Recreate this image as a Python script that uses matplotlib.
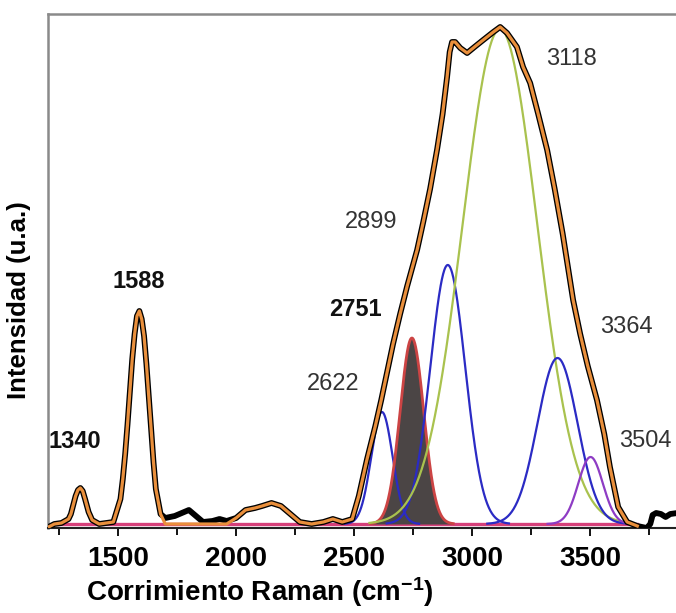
# Raman spectrum with deconvoluted bands (2500-3700 cm-1 region)
import numpy as np
import matplotlib
matplotlib.use("Agg")
import matplotlib.pyplot as plt

plt.rcParams['font.family'] = ['Liberation Sans', 'DejaVu Sans']
plt.rcParams['mathtext.fontset'] = 'custom'
plt.rcParams['mathtext.rm'] = 'Liberation Sans:bold'
plt.rcParams['mathtext.it'] = 'Liberation Sans:bold'

raman_x = [1205, 1230, 1260, 1290, 1300, 1320, 1330, 1340, 1350, 1360,
           1375, 1390, 1420, 1480, 1510, 1520, 1530, 1540, 1560, 1570,
           1580, 1590, 1600, 1610, 1620, 1640, 1650, 1660, 1680, 1700,
           1740, 1780, 1800, 1830, 1860, 1900, 1930, 1960, 2000, 2040,
           2080, 2110, 2150, 2190, 2230, 2270, 2320, 2370, 2410, 2450,
           2492, 2520, 2555, 2590, 2615, 2640, 2665, 2695, 2725, 2767,
           2793, 2822, 2852, 2875, 2894, 2905, 2915, 2928, 2950, 2979,
           3010, 3047, 3090, 3119, 3148, 3190, 3216, 3246, 3280, 3318,
           3350, 3384, 3428, 3458, 3490, 3529, 3560, 3584, 3619, 3657,
           3700, 3740, 3755, 3765, 3780, 3800, 3820, 3840, 3870]
raman_y = [-3, 0, 1, 5, 10, 28, 34, 36, 33, 25,
           12, 4, 0, 2, 25, 45, 70, 100, 165, 190,
           208, 213, 205, 188, 160, 95, 62, 35, 10, 6,
           8, 12, 14, 8, 2, 3, 5, 3, 6, 14,
           16, 18, 21, 18, 10, 2, 0, 2, 5, 2,
           5, 28, 65, 98, 124, 152, 180, 210, 238, 274,
           302, 335, 375, 410, 447, 472, 482, 482, 476, 471,
           477, 484, 492, 497, 491, 477, 457, 441, 410, 374,
           335, 290, 224, 190, 158, 124, 90, 57, 17, 2,
           -2, -4, 0, 9, 11, 10, 7, 10, 11]

# fitted bands: centre, height, width (sigma)
band_center = [2618, 2745, 2897, 3118, 3362, 3502]
band_height = [112, 186, 259, 495, 166, 67]
band_sigma = [45, 50, 74, 158, 85, 52]
band_color = ['#2b2bc4', '#cc4444', '#2b2bc4', '#a9c24e', '#2b2bc4', '#8e3cc4']

# peak labels
lab_text = ['1340', '1588', '2751', '2622', '2899', '3118', '3364', '3504']
lab_x = [1318, 1589, 2504, 2411, 2572, 3419, 3653, 3733]
lab_y = [83, 242, 214, 140, 302, 465, 197, 83]
lab_bold = [True, True, True, False, False, False, False, False]

raman_x = np.array(raman_x)
raman_y = np.array(raman_y)

fig = plt.figure(figsize=(6.76, 6.13), dpi=100)
ax = fig.add_axes([48/676, 85/613, 1 - 48/676, 514/613])

# baseline
ax.plot([1240, 3700], [0, 0], color='#d6407a', lw=2.4, zorder=1)

# bands
for c, h, s, col in zip(band_center, band_height, band_sigma, band_color):
    xx = np.linspace(c - 3.5*s, c + 3.5*s, 300)
    yy = h*np.exp(-0.5*((xx - c)/s)**2)
    if col == '#cc4444':
        ax.fill_between(xx, 0, yy, color='#4b4545', lw=0, zorder=2)
        ax.plot(xx, yy, color=col, lw=2.0, zorder=3)
    else:
        ax.plot(xx, yy, color=col, lw=1.6, zorder=3)

# experimental + fit
ax.plot(raman_x, raman_y, color='black', lw=4.2, zorder=4, solid_joinstyle='round')
fit_mask = (raman_x <= 3700)
fit_y = np.where((raman_x > 1690) & (raman_x < 1985), 0, raman_y)
ax.plot(raman_x[fit_mask], fit_y[fit_mask], color='#e98f3c', lw=2.3, zorder=5,
        solid_joinstyle='round')

for t, x, y, b in zip(lab_text, lab_x, lab_y, lab_bold):
    ax.text(x, y, t, ha='center', va='center', fontsize=17,
            fontweight='bold' if b else 'normal',
            color='#111111' if b else '#333333')

ax.set_xlim(1203, 3864)
ax.set_ylim(-4, 510)
ax.set_xticks([1500, 2000, 2500, 3000, 3500])
ax.set_xticks([1250, 1750, 2250, 2750, 3250, 3750], minor=True)
ax.set_yticks([])
ax.tick_params(axis='x', which='major', direction='out', length=6, width=1.3,
               labelsize=20, pad=7)
ax.tick_params(axis='x', which='minor', direction='out', length=5, width=1.3)
for lab in ax.get_xticklabels():
    lab.set_fontweight('bold')

ax.spines['right'].set_visible(False)
ax.spines['top'].set_color('#8a8a8a')
ax.spines['left'].set_color('#8a8a8a')
ax.spines['top'].set_linewidth(1.8)
ax.spines['left'].set_linewidth(1.8)
ax.spines['bottom'].set_color('#222222')
ax.spines['bottom'].set_linewidth(1.5)

fig.text(260/676, 1 - 592/613, r'Corrimiento Raman (cm$^{\mathregular{-1}}$)',
         ha='center', va='center', fontsize=20, fontweight='bold')
fig.text(19/676, 1 - 300/613, 'Intensidad (u.a.)', ha='center', va='center',
         rotation=90, fontsize=18.5, fontweight='bold')

fig.savefig('out.png', dpi=100)
